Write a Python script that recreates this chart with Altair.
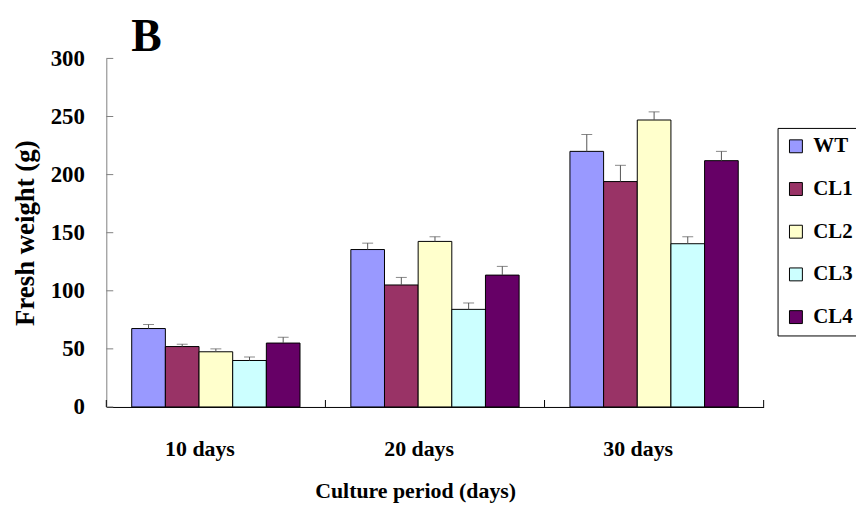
import altair as alt
import pandas as pd

periods = ["10 days", "20 days", "30 days"]
lines = ["WT", "CL1", "CL2", "CL3", "CL4"]
colors = ["#9999FF", "#993366", "#FFFFCC", "#CCFFFF", "#660066"]

weight_10 = [67.5, 52, 47.5, 40, 55]
weight_20 = [135.5, 105, 142.5, 84, 113.5]
weight_30 = [220, 194, 247, 140.5, 212]
err_10 = [3.5, 2, 2.5, 3, 5]
err_20 = [5.5, 6.5, 4, 5.5, 7.5]
err_30 = [14.5, 14, 7, 6, 8]

y_ticks = [0, 50, 100, 150, 200, 250, 300]
panel_label = ["B"]

rows = []
for p, ws, es in zip(periods, [weight_10, weight_20, weight_30], [err_10, err_20, err_30]):
    for ln, w, e in zip(lines, ws, es):
        rows.append({"period": p, "line": ln, "weight": w, "upper": w + e})
df = pd.DataFrame(rows)
ticks_df = pd.DataFrame({"v": y_ticks})
period_df = pd.DataFrame({"period": periods})
label_df = pd.DataFrame({"t": panel_label})

FONT = "Liberation Serif"
W, H = 662, 351

x_enc = alt.X("period:N", sort=periods, scale=alt.Scale(paddingInner=0, paddingOuter=0),
              axis=alt.Axis(title="Culture period (days)", labelAngle=0, ticks=False,
                            domainColor="black", labelPadding=32, labelOffset=-16,
                            titlePadding=21, titleX=311, labelFontSize=22, titleFontSize=22))
xo_enc = alt.XOffset("line:N", sort=lines, scale=alt.Scale(paddingInner=0, paddingOuter=0.755))
y_scale = alt.Scale(domain=[0, 300])

bars = alt.Chart(df).mark_bar(stroke="black", strokeWidth=1, opacity=1).encode(
    x=x_enc,
    xOffset=xo_enc,
    y=alt.Y("weight:Q", scale=y_scale,
            axis=alt.Axis(title="Fresh weight (g)", values=y_ticks, ticks=False,
                          domainColor="#808080", labelPadding=22, titlePadding=11,
                          grid=False, labelFontSize=23, titleFontSize=27)),
    color=alt.Color("line:N", sort=lines, scale=alt.Scale(domain=lines, range=colors),
                    legend=alt.Legend(title=None, orient="none", legendX=676, legendY=70,
                                      strokeColor="black", fillColor="white", padding=8,
                                      symbolType="square", symbolSize=169,
                                      symbolStrokeColor="black", symbolStrokeWidth=1,
                                      symbolOpacity=1, labelFont=FONT, labelFontWeight="bold",
                                      labelFontSize=21, labelColor="black",
                                      rowPadding=21, labelOffset=7)),
)

err = alt.Chart(df).mark_rule(color="#555555", strokeWidth=1).encode(
    x=alt.X("period:N", sort=periods), xOffset=xo_enc,
    y=alt.Y("weight:Q"), y2="upper:Q",
)

caps = alt.Chart(df).mark_tick(color="#555555", thickness=1, size=11).encode(
    x=alt.X("period:N", sort=periods), xOffset=xo_enc,
    y=alt.Y("upper:Q"),
)

yticks = alt.Chart(ticks_df).mark_rule(color="#808080", strokeWidth=1).encode(
    y=alt.Y("v:Q"), x=alt.value(0), x2=alt.value(7),
)

xticks = alt.Chart(period_df).mark_rule(color="black", strokeWidth=1).encode(
    x=alt.X("period:N", sort=periods, bandPosition=0), y=alt.value(H - 7), y2=alt.value(H),
)
xtick_end = alt.Chart(period_df).transform_filter(
    alt.datum.period == periods[-1]
).mark_rule(color="black", strokeWidth=1).encode(
    x=alt.X("period:N", sort=periods, bandPosition=1), y=alt.value(H - 7), y2=alt.value(H),
)

# panel letter
letter = alt.Chart(label_df).mark_text(
    font=FONT, fontWeight="bold", fontSize=46, color="black",
    align="left", baseline="alphabetic",
).encode(text="t:N", x=alt.value(25), y=alt.value(-7))

chart = alt.layer(bars, err, caps, yticks, xticks, xtick_end, letter).properties(
    width=W, height=H,
    background="white",
    autosize=alt.AutoSizeParams(type="none"),
    padding={"left": 99, "top": 49, "right": 93, "bottom": 104},
).configure_view(stroke=None).configure_axis(
    labelFont=FONT, titleFont=FONT, labelFontWeight="bold", titleFontWeight="bold",
    labelColor="black", titleColor="black", grid=False,
)

chart.save("out.html", embed_options={"renderer": "svg", "actions": False})
